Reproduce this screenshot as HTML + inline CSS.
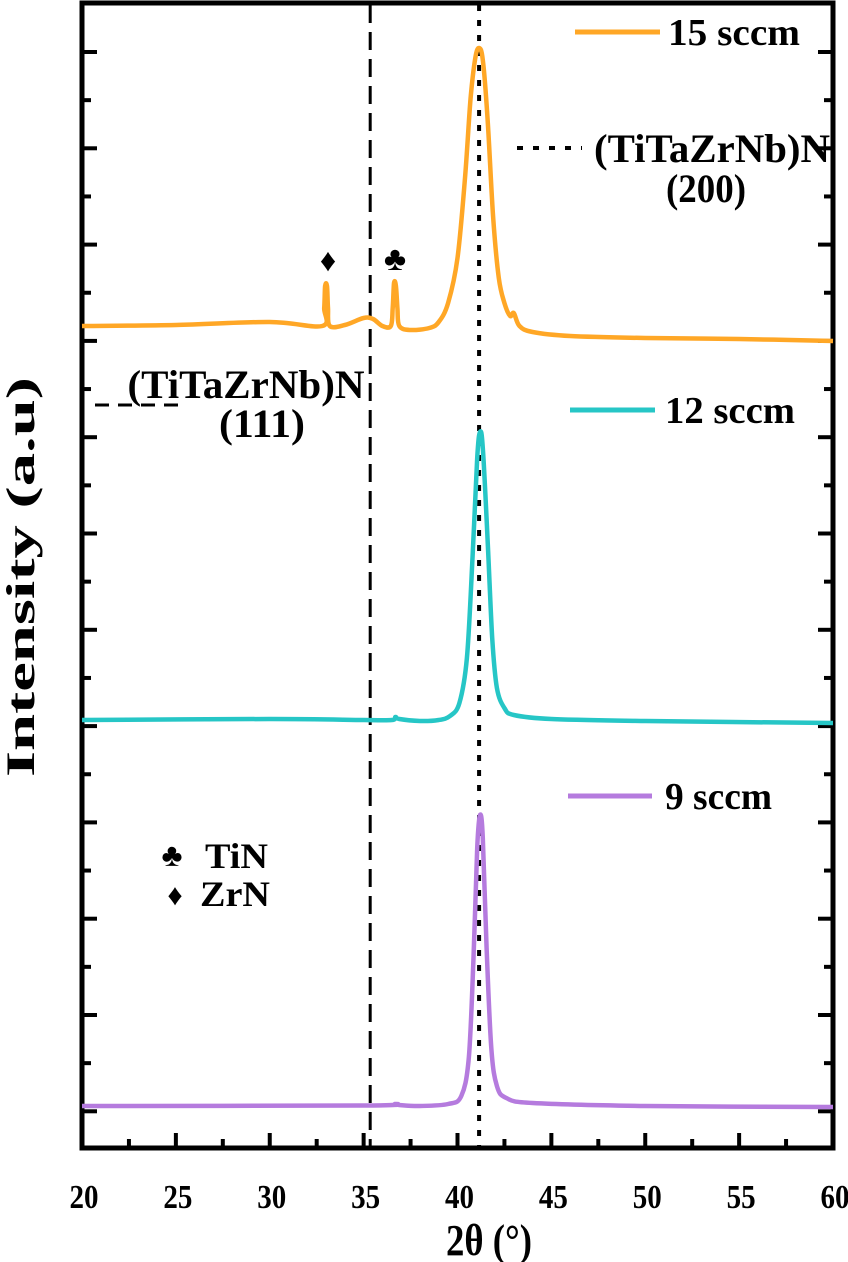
<!DOCTYPE html>
<html><head><meta charset="utf-8"><style>
body{margin:0;background:#fff}
svg{display:block}
text{font-family:"Liberation Serif",serif;font-weight:bold;fill:#000}
</style></head><body>
<svg id="chart" width="848" height="1262" viewBox="0 0 848 1262"></svg>
<script>
const xTicks=[20,25,30,35,40,45,50,55,60];
const s15x=[20,25,30,32.8,32.9,32.95,33.05,33.1,33.2,34,35,35.5,36,36.45,36.55,36.62,36.72,36.8,36.9,37.5,38.5,39,39.5,40,40.4,40.7,40.95,41.15,41.35,41.6,41.9,42.2,42.5,42.8,43,43.3,44,46,50,55,60];
const s15y=[822,823,826,822,840,862,862,840,822,823,830,829,822,822,840,865,862,840,822,818,820,826,845,890,970,1050,1090,1100,1088,1030,930,870,845,832,835,822,816,812,810,809,807];
const s12x=[20,30,35,36.5,36.7,36.9,38,39,39.6,40.1,40.5,40.8,41.05,41.2,41.35,41.6,41.85,42.1,42.5,43,45,50,60];
const s12y=[428,429,428,428,431,429,427,428,432,445,490,590,690,716,700,610,510,460,440,433,429,427,425];
const s9x=[20,35,36.7,36.9,38,39.5,40.2,40.6,40.85,41.05,41.2,41.35,41.55,41.8,42.1,42.6,44,50,60];
const s9y=[42,42.5,44,43,42,44,52,90,190,300,333,310,200,100,62,50,45,42,41];
const refLines=[35.35,41.15];

const svg=document.getElementById('chart');
const NS='http://www.w3.org/2000/svg';
const L=82,R=833,T=3,B=1148;
const xs=v=>L+(v-20)/(60-20)*(R-L);
const ys=v=>B-v;
function mk(tag,attrs,parent){const e=document.createElementNS(NS,tag);for(const k in attrs)e.setAttribute(k,attrs[k]);(parent||svg).appendChild(e);return e;}
function txt(s,x,y,size,anchor,len){const a={x:x,y:y,'font-size':size,'text-anchor':anchor||'middle'};if(len){a.textLength=len;a.lengthAdjust='spacingAndGlyphs';}const t=mk('text',a);t.textContent=s;return t;}

const frame=mk('rect',{x:L,y:T,width:R-L,height:B-T,fill:'none',stroke:'#000','stroke-width':5});



for(let v=20;v<=60;v+=2.5){
  const major=(v%5===0);
  const len=major?15:9;
  const tk=mk('line',{x1:xs(v),x2:xs(v),y1:B,y2:B-len,stroke:'#000','stroke-width':4});
  
  
}
xTicks.forEach(v=>{
  const t=txt(String(v),xs(v)+2,1208,34,'middle',29);
  
  
});
for(let i=0;i<23;i++){
  const y=52+i*48.15;
  if(y>B-10)break;
  const len=(i%2===0)?15:9;
  [[L,L+len],[R,R-len]].forEach(p=>{
    const tk=mk('line',{x1:p[0],x2:p[1],y1:y,y2:y,stroke:'#000','stroke-width':4});
    
    
  });
}

const d1=mk('line',{x1:xs(refLines[0]),x2:xs(refLines[0]),y1:5,y2:B,stroke:'#000','stroke-width':3,'stroke-dasharray':'18,9'});


const d2=mk('line',{x1:xs(refLines[1]),x2:xs(refLines[1]),y1:5,y2:B,stroke:'#000','stroke-width':4,'stroke-dasharray':'6,9'});



function series(xa,ya,color,name){
  const P=xa.map((x,i)=>[xs(x),ys(ya[i])]);
  let d='M'+P[0][0].toFixed(1)+','+P[0][1].toFixed(1);
  for(let i=0;i<P.length-1;i++){
    const p0=P[Math.max(0,i-1)],p1=P[i],p2=P[i+1],p3=P[Math.min(P.length-1,i+2)];
    const c1=[p1[0]+(p2[0]-p0[0])/6,p1[1]+(p2[1]-p0[1])/6];
    const c2=[p2[0]-(p3[0]-p1[0])/6,p2[1]-(p3[1]-p1[1])/6];
    d+=' C'+c1[0].toFixed(1)+','+c1[1].toFixed(1)+' '+c2[0].toFixed(1)+','+c2[1].toFixed(1)+' '+p2[0].toFixed(1)+','+p2[1].toFixed(1);
  }
  const p=mk('path',{d:d,fill:'none',stroke:color,'stroke-width':4.5,'stroke-linejoin':'round'});
  
  
}
series(s15x,s15y,'#FFA726','series-15-sccm');
series(s12x,s12y,'#26C6C6','series-12-sccm');
series(s9x,s9y,'#B57BDE','series-9-sccm');

function legend(x1,x2,y,color,label,name,tx,len){
  const g=mk('g',{});
  
  
  mk('line',{x1:x1,x2:x2,y1:y,y2:y,stroke:color,'stroke-width':5},g);
  g.appendChild(txt(label,tx,y+13,38,'start',len));
}
legend(575,660,32,'#FFA726','15 sccm','legend-15-sccm',668,132);
legend(570,655,410,'#26C6C6','12 sccm','legend-12-sccm',665,130);
legend(568,652,796,'#B57BDE','9 sccm','legend-9-sccm',665,107);

const a1=mk('g',{});
mk('line',{x1:95,x2:178,y1:405,y2:405,stroke:'#000','stroke-width':3,'stroke-dasharray':'14,9'},a1);
a1.appendChild(txt('(TiTaZrNb)N',246,398,40,'middle',237));
a1.appendChild(txt('(111)',262,437,40,'middle',86));
const a2=mk('g',{});
mk('line',{x1:517,x2:582,y1:148,y2:148,stroke:'#000','stroke-width':4,'stroke-dasharray':'6,10'},a2);
a2.appendChild(txt('(TiTaZrNb)N',712,162,40,'middle',236));
a2.appendChild(txt('(200)',706,202,40,'middle',80));
const m1=txt('\u2666',328,271,32);
const m2=txt('\u2663',395,270,34);
const k=mk('g',{});
k.appendChild(txt('\u2663',172,866,32));
k.appendChild(txt('TiN',205,868,36,'start',63));
k.appendChild(txt('\u2666',175,905,30));
k.appendChild(txt('ZrN',200,906,36,'start',70));

const xt=txt('2\u03b8 (\u00b0)',489,1255,44,'middle',86);
const yt=txt('Intensity (a.u)',0,0,40,'middle',400);yt.setAttribute('transform','translate(34,577) rotate(-90)');

</script>
</body></html>
